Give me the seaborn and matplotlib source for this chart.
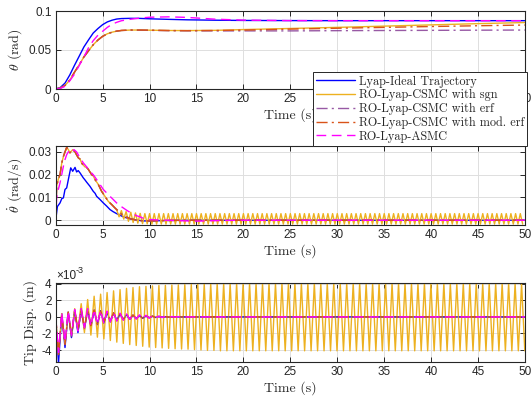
import numpy as np
import matplotlib
matplotlib.use("Agg")
import matplotlib.pyplot as plt
import seaborn as sns

# ---------------- data ----------------
labels = ["Lyap-Ideal Trajectory", "RO-Lyap-CSMC with sgn", "RO-Lyap-CSMC with erf",
          "RO-Lyap-CSMC with mod. erf", "RO-Lyap-ASMC"]
colors = ["#0000FF", "#EDB120", "#7E2F8E", "#D95319", "#FF00FF"]

# theta (rad)
theta_t = [0, 0.5, 1, 1.5, 2, 2.5, 3, 3.5, 4, 4.5, 5, 5.5, 6, 6.5, 7, 8, 9, 10, 12, 14, 17, 20, 25, 30, 35, 40, 45, 50]
theta_ideal = [0, 0.002, 0.0077, 0.018, 0.0303, 0.042, 0.0538, 0.063, 0.0718, 0.0775, 0.0825, 0.086, 0.0882, 0.0897,
               0.0903, 0.0906, 0.0905, 0.0900, 0.0893, 0.0887, 0.0882, 0.0879, 0.0877, 0.0876, 0.0876, 0.0876, 0.0876, 0.0876]
theta_sgn = [0, 0.0013, 0.0047, 0.0115, 0.0215, 0.031, 0.041, 0.049, 0.0568, 0.0628, 0.0675, 0.0708, 0.0728, 0.0742,
             0.0750, 0.0756, 0.0756, 0.0754, 0.0750, 0.0749, 0.0752, 0.0762, 0.0776, 0.0790, 0.0806, 0.0822, 0.0838, 0.0852]
theta_erf = [0, 0.0013, 0.0047, 0.0115, 0.0215, 0.031, 0.041, 0.049, 0.0568, 0.0628, 0.0675, 0.0708, 0.0728, 0.0742,
             0.0750, 0.0755, 0.0754, 0.0752, 0.0748, 0.0746, 0.0745, 0.0745, 0.0745, 0.0748, 0.0750, 0.0752, 0.0754, 0.0756]
theta_moderf = [0, 0.0013, 0.0047, 0.0115, 0.0215, 0.031, 0.041, 0.049, 0.0568, 0.0628, 0.0675, 0.0708, 0.0728, 0.0742,
                0.0751, 0.0756, 0.0756, 0.0754, 0.0750, 0.0748, 0.0750, 0.0755, 0.0768, 0.0779, 0.0790, 0.0801, 0.0811, 0.0820]
theta_asmc = [0, 0.0008, 0.0035, 0.0105, 0.019, 0.030, 0.041, 0.053, 0.062, 0.069, 0.074, 0.079, 0.083, 0.0855,
              0.0875, 0.0895, 0.091, 0.092, 0.0925, 0.0918, 0.0895, 0.0883, 0.0877, 0.0876, 0.0876, 0.0876, 0.0876, 0.0876]

# theta dot (rad/s)
dth_ideal_t = [0, 0.18, 0.46, 0.65, 0.82, 0.99, 1.17, 1.35, 1.6, 1.81, 2.06, 2.23, 2.4, 2.59, 2.94, 3.1, 3.3, 3.65,
               4.0, 4.2, 4.36, 4.72, 5.07, 5.43, 5.78, 6.1, 6.49, 7.2, 7.9, 8.6, 9.3, 10, 11, 12, 14, 17, 20, 50]
dth_ideal = [0, 0.006, 0.0076, 0.0095, 0.0098, 0.0135, 0.0142, 0.0179, 0.023, 0.0215, 0.0232, 0.0212, 0.0218, 0.0208,
             0.0186, 0.0178, 0.0167, 0.0149, 0.0127, 0.0118, 0.0105, 0.0091, 0.0076, 0.0062, 0.0047, 0.0038, 0.0029,
             0.0015, 0.0006, 0.0001, -0.0003, -0.0003, -0.0002, -0.0001, 0, 0, 0, 0]

dth_smc_t = [0, 0.1, 0.28, 0.46, 0.64, 0.82, 0.99, 1.17, 1.35, 1.52, 1.81, 2.06, 2.25, 2.41, 2.6, 2.77, 3.12, 3.3,
             3.48, 3.83, 4.0, 4.18, 4.54, 4.89, 5.25, 5.6, 5.96, 6.31]
dth_smc = [0, 0.015, 0.018, 0.020, 0.025, 0.028, 0.030, 0.032, 0.031, 0.0296, 0.031, 0.030, 0.0285, 0.0274, 0.0268,
           0.025, 0.0234, 0.0232, 0.0223, 0.020, 0.0195, 0.0179, 0.0157, 0.0127, 0.0105, 0.0083, 0.0069, 0.0054]
dth_tail_t = [6.67, 7.02, 7.5, 8.0, 8.5, 9.0, 10.0, 11.0, 12.0, 14.0, 50.0]
dth_moderf_tail = [0.0040, 0.0025, 0.0013, 0.0006, 0.0001, -0.0002, -0.0003, -0.0002, -0.0001, 0, 0]
dth_erf_tail = [0.0041, 0.0027, 0.0015, 0.0007, 0.0002, -0.0001, -0.0003, -0.0002, -0.0001, 0, 0]
# sgn: chattering after t = 6.5 s, extrema every 0.25 s
dth_sgn_osc_start, dth_sgn_osc_step = 6.5, 0.25
dth_sgn_osc = [0.0045, 0.0015, 0.0042, 0.0005, 0.0038, -0.0005, 0.0035, -0.0010, 0.0032, -0.0013,
               0.0030, -0.0015, 0.0029, -0.0016] + [0.0029, -0.0017] * 80

dth_asmc_t = [0, 0.1, 0.28, 0.46, 0.64, 0.82, 0.99, 1.17, 1.45, 1.7, 1.95, 2.23, 2.59, 2.94, 3.3, 3.65, 4.0, 4.36,
              4.72, 5.07, 5.43, 5.78, 6.13, 6.49, 6.84, 7.2, 7.55, 7.9, 8.26, 8.6, 8.97, 9.3, 9.68, 10.03, 11, 12,
              13, 15, 16, 18, 20, 50]
dth_asmc = [0, 0.0098, 0.0135, 0.0164, 0.020, 0.0237, 0.0266, 0.0288, 0.0307, 0.030, 0.031, 0.030, 0.0274, 0.0252,
            0.0234, 0.0215, 0.020, 0.0179, 0.0157, 0.0135, 0.012, 0.0105, 0.0091, 0.0076, 0.0064, 0.0054, 0.0044,
            0.0035, 0.0028, 0.002, 0.0015, 0.0009, 0.0006, 0.0003, 0.0001, 0, -0.0002, -0.0004, -0.0003, -0.0001, 0, 0]

# tip displacement (x1e-3 m), extrema every half period (0.345 s) after t = 0.3 s
tip_start, tip_step = 0.3, 0.345
tip_sgn = [0.0, -4.5, 0.4, -3.3, 0.6, -2.3, 1.0, -1.6, 1.6, -1.9, 2.1, -2.2, 2.5, -2.45, 2.75, -2.65, 2.95, -2.85,
           3.15, -3.05, 3.3, -3.2, 3.45, -3.35, 3.55, -3.45, 3.65, -3.55, 3.7, -3.65, 3.75, -3.7, 3.8, -3.75, 3.82,
           -3.8, 3.85, -3.85, 3.88, -3.88, 3.9, -3.9, 3.92, -3.95, 3.95, -4.0, 3.97, -4.05, 4.0, -4.05] + [4.05, -4.1] * 48
tip_ideal = [0.0, -5.6, 0.4, -3.7, 0.6, -2.5, 0.8, -1.9, 0.9, -1.5, 0.95, -1.2, 0.85, -0.95, 0.75, -0.75, 0.6, -0.6,
             0.5, -0.45, 0.4, -0.35, 0.3, -0.28, 0.22, -0.2, 0.16, -0.15, 0.12, -0.1, 0.08, -0.07, 0.05, -0.04, 0.03,
             -0.02, 0.0]
tip_erf = [0.0, -4.6, 0.3, -3.4, 0.5, -2.4, 0.8, -1.8, 0.9, -1.4, 0.9, -1.1, 0.8, -0.9, 0.7, -0.7, 0.6, -0.55, 0.5,
           -0.45, 0.4, -0.35, 0.3, -0.3, 0.25, -0.22, 0.2, -0.17, 0.15, -0.12, 0.1, -0.08, 0.06, -0.05, 0.03, -0.02, 0.0]
tip_moderf = [0.0, -4.5, 0.35, -3.3, 0.55, -2.35, 0.8, -1.75, 0.9, -1.35, 0.9, -1.05, 0.8, -0.85, 0.7, -0.68, 0.6,
              -0.52, 0.5, -0.42, 0.4, -0.33, 0.3, -0.28, 0.24, -0.2, 0.19, -0.16, 0.14, -0.11, 0.1, -0.07, 0.06, -0.05,
              0.03, -0.02, 0.0]
tip_asmc = [0.0, -4.3, 0.5, -3.0, 0.7, -2.2, 0.9, -1.7, 1.0, -1.3, 1.0, -1.1, 0.9, -0.9, 0.8, -0.8, 0.7, -0.6, 0.55,
            -0.5, 0.45, -0.4, 0.35, -0.3, 0.3, -0.25, 0.25, -0.2, 0.2, -0.15, 0.15, -0.1, 0.1, -0.08, 0.08, -0.05,
            0.05, -0.03, 0.04, 0.0]
tip_end_t, tip_end = 50.0, 0.0

x_ticks = [0, 5, 10, 15, 20, 25, 30, 35, 40, 45, 50]


def ext_times(n):
    return [0.0] + [tip_start + tip_step * k for k in range(n - 1)]


# ---------------- style ----------------
sns.set_style("ticks")
plt.rcParams["font.family"] = ["Liberation Sans", "DejaVu Sans"]
plt.rcParams["mathtext.fontset"] = "cm"

fig = plt.figure(figsize=(5.31, 4.0), dpi=100)
left, width = 0.1049, 0.8838
ax1 = fig.add_axes([left, 0.7775, width, 0.195])
ax2 = fig.add_axes([left, 0.4375, width, 0.1975])
ax3 = fig.add_axes([left, 0.095, width, 0.1975])

dash = (7, 4)
dashdot = (8, 3, 1.5, 3)
lw = 1.0


def draw(ax, x, y, i, label=None):
    kw = dict(x=np.asarray(x, float), y=np.asarray(y, float), ax=ax, color=colors[i], lw=lw,
              estimator=None, sort=False)
    if label is not None:
        kw["label"] = label
    sns.lineplot(**kw)
    line = ax.lines[-1]
    if i == 4:
        line.set_dashes(dash)
    elif i in (2, 3):
        line.set_dashes(dashdot)
    if i == 2:
        line.set_alpha(0.8)
    return line


# top panel
series1 = [theta_ideal, theta_sgn, theta_erf, theta_moderf, theta_asmc]
handles = []
for i, s in enumerate(series1):
    handles.append(draw(ax1, theta_t, s, i, label=labels[i]))
if ax1.get_legend() is not None:
    ax1.get_legend().remove()

# middle panel
draw(ax2, dth_ideal_t, dth_ideal, 0)
osc_t = [dth_sgn_osc_start + dth_sgn_osc_step * k for k in range(len(dth_sgn_osc))]
draw(ax2, dth_smc_t + osc_t, dth_smc + dth_sgn_osc, 1)
draw(ax2, dth_smc_t + dth_tail_t, dth_smc + dth_erf_tail, 2)
draw(ax2, dth_smc_t + dth_tail_t, dth_smc + dth_moderf_tail, 3)
draw(ax2, dth_asmc_t, dth_asmc, 4)

# bottom panel
draw(ax3, ext_times(len(tip_ideal)) + [tip_end_t], tip_ideal + [tip_end], 0)
draw(ax3, ext_times(len(tip_sgn)), tip_sgn, 1)
draw(ax3, ext_times(len(tip_erf)) + [tip_end_t], tip_erf + [tip_end], 2)
draw(ax3, ext_times(len(tip_moderf)) + [tip_end_t], tip_moderf + [tip_end], 3)
draw(ax3, ext_times(len(tip_asmc)) + [tip_end_t], tip_asmc + [tip_end], 4)

ax1.set_ylim(0, 0.1)
ax1.set_yticks([0, 0.05, 0.1])
ax1.set_yticklabels(["0", "0.05", "0.1"])
ax2.set_ylim(-0.0021, 0.0326)
ax2.set_yticks([0, 0.01, 0.02, 0.03])
ax2.set_yticklabels(["0", "0.01", "0.02", "0.03"])
ax3.set_ylim(-5.45, 4.1)
ax3.set_yticks([-4, -2, 0, 2, 4])
ax3.set_yticklabels(["-4", "-2", "0", "2", "4"])

ylabels = [r"$\theta$ (rad)", r"$\dot{\theta}$ (rad/s)", "Tip Disp. (m)"]
for ax, yl in zip([ax1, ax2, ax3], ylabels):
    ax.set_xlim(0, 50)
    ax.set_xticks(x_ticks)
    ax.set_xticklabels([str(v) for v in x_ticks])
    ax.grid(True, color="#dedede", lw=0.7)
    ax.set_axisbelow(True)
    for sp in ax.spines.values():
        sp.set_visible(True)
        sp.set_color("#262626")
        sp.set_linewidth(0.8)
    ax.tick_params(direction="in", top=True, right=True, length=3.5, width=0.7,
                   labelsize=8.5, colors="#262626", pad=3)
    ax.set_xlabel("Time (s)", fontfamily="cmr10", fontsize=10, labelpad=2, color="#262626")
    ax.set_ylabel(yl, fontfamily="cmr10", fontsize=10, labelpad=3, color="#262626")

# x10^-3 multiplier for tip displacement
t1 = ax3.text(0.0, 1.015, "\u00d710", transform=ax3.transAxes, ha="left", va="bottom",
              fontsize=8.5, color="#262626")
ax3.annotate("-3", xy=(1.0, 0.55), xycoords=t1, ha="left", va="bottom", fontsize=6.5, color="#262626")

leg = fig.legend(handles=handles, labels=labels, loc="upper right",
                 bbox_to_anchor=(0.993, 0.82), bbox_transform=fig.transFigure,
                 prop={"family": "cmr10", "size": 8.8}, frameon=True, fancybox=False,
                 framealpha=1.0, edgecolor="#262626", handlelength=3.2, handletextpad=0.35,
                 labelspacing=0.12, borderpad=0.25, borderaxespad=0.0)
leg.get_frame().set_linewidth(0.7)

fig.savefig("out.png", dpi=100)
